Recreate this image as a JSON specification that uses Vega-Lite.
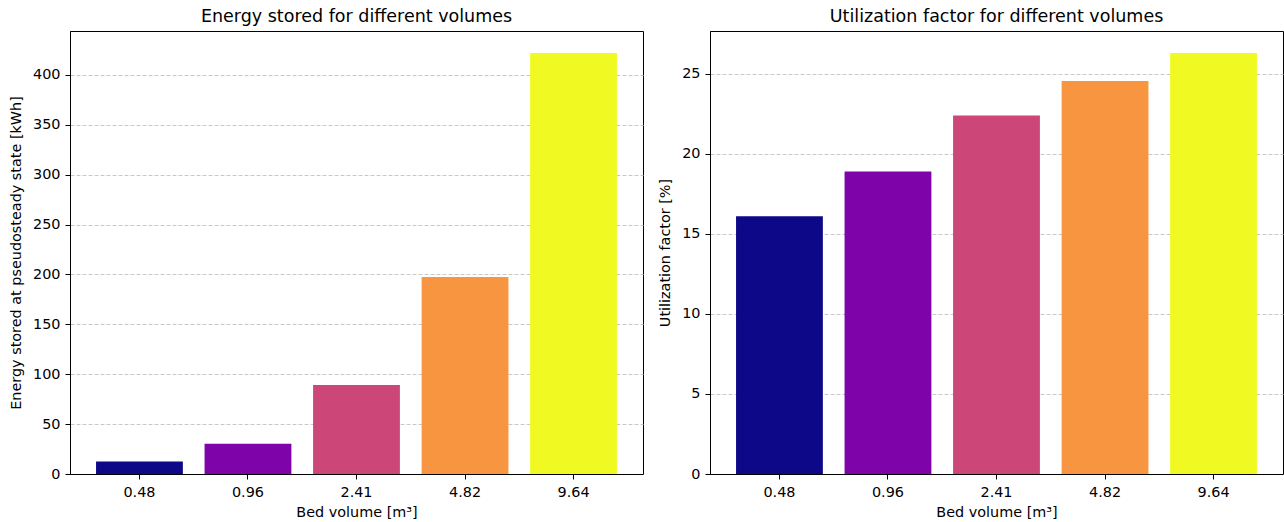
{
  "$schema": "https://vega.github.io/schema/vega-lite/v6.json",
  "autosize": "pad",
  "padding": {"left": 8, "top": 7, "right": 1, "bottom": 3},
  "bounds": "flush",
  "spacing": 67,
  "background": "white",
  "config": {
    "font": "DejaVu Sans",
    "view": {"stroke": "black", "strokeWidth": 1},
    "title": {"font": "DejaVu Sans", "fontSize": 17.5, "fontWeight": "normal", "color": "black", "offset": 6},
    "axis": {
      "labelFont": "DejaVu Sans", "labelFontSize": 14.4, "labelColor": "black",
      "titleFont": "DejaVu Sans", "titleFontSize": 14.4, "titleFontWeight": "normal", "titleColor": "black",
      "domainColor": "black", "tickColor": "black", "tickSize": 5, "labelPadding": 5,
      "titlePadding": 4
    },
    "axisX": {"grid": false, "labelAngle": 0, "labelPadding": 6, "titlePadding": 7},
    "axisY": {"grid": true, "gridColor": "#c8c8c8", "gridDash": [4, 2], "gridWidth": 1, "titlePadding": 9}
  },
  "data": {
    "values": [
      {"vol": "0.48", "energy": 12.5, "util": 16.1},
      {"vol": "0.96", "energy": 30.2, "util": 18.9},
      {"vol": "2.41", "energy": 89.2, "util": 22.4},
      {"vol": "4.82", "energy": 197.5, "util": 24.56},
      {"vol": "9.64", "energy": 422.0, "util": 26.3}
    ]
  },
  "hconcat": [
    {
      "width": 573, "height": 443,
      "title": "Energy stored for different volumes",
      "mark": {"type": "bar"},
      "encoding": {
        "x": {"field": "vol", "type": "ordinal", "sort": null, "title": "Bed volume [m³]",
              "scale": {"paddingInner": 0.2, "paddingOuter": 0.24}},
        "y": {"field": "energy", "type": "quantitative", "title": "Energy stored at pseudosteady state [kWh]",
              "scale": {"domain": [0, 444], "nice": false},
              "axis": {"values": [0, 50, 100, 150, 200, 250, 300, 350, 400]}},
        "color": {"field": "vol", "type": "nominal", "legend": null,
                  "scale": {"domain": ["0.48", "0.96", "2.41", "4.82", "9.64"],
                            "range": ["#0d0887", "#7e03a8", "#cc4778", "#f89540", "#f0f921"]}}
      }
    },
    {
      "width": 573, "height": 443,
      "title": "Utilization factor for different volumes",
      "mark": {"type": "bar"},
      "encoding": {
        "x": {"field": "vol", "type": "ordinal", "sort": null, "title": "Bed volume [m³]",
              "scale": {"paddingInner": 0.2, "paddingOuter": 0.24}},
        "y": {"field": "util", "type": "quantitative", "title": "Utilization factor [%]",
              "scale": {"domain": [0, 27.68], "nice": false},
              "axis": {"values": [0, 5, 10, 15, 20, 25]}},
        "color": {"field": "vol", "type": "nominal", "legend": null,
                  "scale": {"domain": ["0.48", "0.96", "2.41", "4.82", "9.64"],
                            "range": ["#0d0887", "#7e03a8", "#cc4778", "#f89540", "#f0f921"]}}
      }
    }
  ]
}
